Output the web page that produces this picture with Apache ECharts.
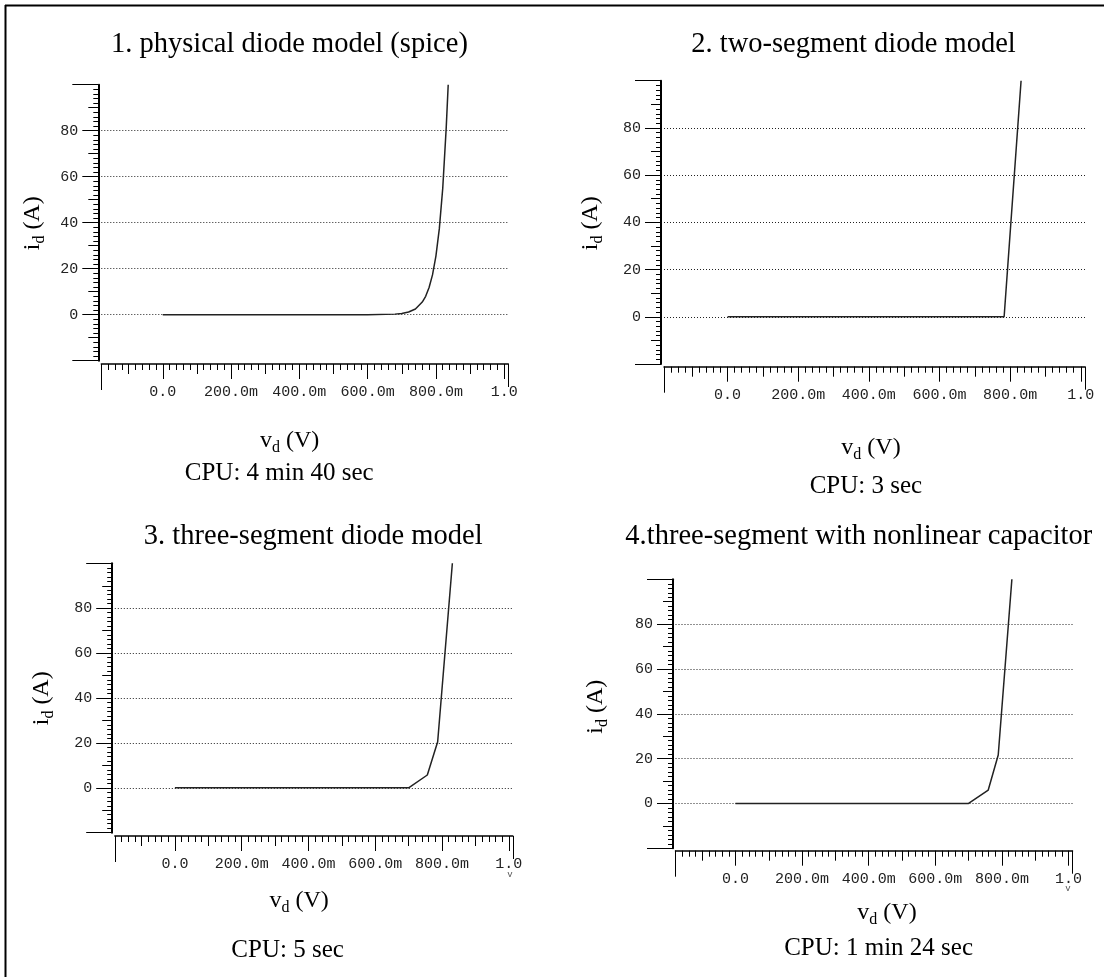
<!DOCTYPE html>
<html><head><meta charset="utf-8">
<script src="https://cdn.jsdelivr.net/npm/echarts@6/dist/echarts.min.js"></script>
<style>html,body{margin:0;padding:0;background:#fff}#c{width:1104px;height:977px}</style>
</head><body><div id="c"></div>
<script>
// ---- data ----
const xTickVals = [0, 0.2, 0.4, 0.6, 0.8, 1.0];
const xTickLabels = ['0.0', '200.0m', '400.0m', '600.0m', '800.0m', '1.0'];
const yTickVals = [0, 20, 40, 60, 80];
const yTickLabels = ['0', '20', '40', '60', '80'];
const xRange = [-0.18, 1.012];
const yRange = [-20, 100];

const titles = ['1. physical diode model (spice)', '2. two-segment diode model',
                '3. three-segment diode model', '4.three-segment with nonlinear capacitor'];
const cpuTexts = ['CPU: 4 min 40 sec', 'CPU: 3 sec', 'CPU: 5 sec', 'CPU: 1 min 24 sec'];

const v1 = [0, 0.6, 0.68, 0.70, 0.72, 0.74, 0.76, 0.77, 0.78, 0.79, 0.80, 0.81, 0.82, 0.83, 0.836];
const i1 = [0, 0, 0.25, 0.55, 1.2, 2.5, 5.5, 8, 11.8, 17.3, 25.5, 37.4, 55, 80.8, 100];
const v2 = [0, 0.783, 0.831];
const i2 = [0, 0, 100];
const v3 = [0, 0.700, 0.756, 0.787, 0.831];
const i3 = [0, 0, 5.7, 20.5, 100];
const v4 = [0, 0.700, 0.759, 0.789, 0.830];
const i4 = [0, 0, 6.0, 21.6, 100];
const curvesV = [v1, v2, v3, v4];
const curvesI = [i1, i2, i3, i4];

// ---- layout ----
const panels = [
  {left: 101.3, top: 84.7, width: 407, height: 276, yOff: 3, xOff: 3.3,
   title: [289.4, 45], cpu: [279.2, 473.3], vd: [289.7, 441], id: [33, 223.3]},
  {left: 664, top: 80.7, width: 421, height: 283.3, yOff: 3, xOff: 2.7,
   title: [853.5, 45], cpu: [865.9, 486.7], vd: [871, 447.5], id: [590.5, 223.3]},
  {left: 114.8, top: 563.3, width: 398, height: 269.4, yOff: 2.6, xOff: 3.3,
   title: [313.2, 536.7], cpu: [287.6, 950], vd: [299.2, 901], id: [42, 698.3]},
  {left: 675.5, top: 579.3, width: 397, height: 269, yOff: 2.5, xOff: 2.4,
   title: [858.8, 536.7], cpu: [878.6, 948.3], vd: [887, 912.5], id: [596, 706.7]}
];

const serif = "'Liberation Serif', 'Times New Roman', serif";
const mono = "'Liberation Mono', 'DejaVu Sans Mono', monospace";

// tick positions (axis decoration)
const xMed = [], xMinor = [], yMed = [], yMinor = [];
for (let k = -9; k <= 50; k++) { if (k % 5 !== 0) xMinor.push(Math.round(k * 2) / 100); }
for (let k = -1; k <= 9; k += 2) xMed.push(k / 10);
for (let k = -9; k <= 49; k++) { if (k % 5 !== 0) yMinor.push(k * 2); }
for (let k = -1; k <= 9; k += 2) yMed.push(k * 10);

const X_PER = 5, Y_PER = 4;
const grids = [], xAxes = [], yAxes = [], series = [], graphics = [];

function fmtX(v) {
  const idx = xTickVals.findIndex(t => Math.abs(t - v) < 1e-6);
  return idx >= 0 ? xTickLabels[idx] : '';
}
function fmtY(v) {
  const idx = yTickVals.findIndex(t => Math.abs(t - v) < 1e-6);
  return idx >= 0 ? yTickLabels[idx] : '';
}

panels.forEach((P, g) => {
  grids.push({left: P.left, top: P.top, width: P.width, height: P.height, containLabel: false, outerBoundsMode: 'none'});
  const xb = (vals, len, extra) => Object.assign({
    gridIndex: g, type: 'value', min: xRange[0], max: xRange[1], position: 'bottom', offset: P.xOff,
    splitLine: {show: false}, axisLine: {show: false, onZero: false}, axisLabel: {show: false},
    axisTick: {show: true, inside: false, length: len, customValues: vals, lineStyle: {color: '#000', width: 1}}
  }, extra || {});
  xAxes.push(xb(xTickVals, 15, {
    axisLine: {show: true, onZero: false, lineStyle: {color: '#000', width: 1.5}},
    axisLabel: {show: true, customValues: xTickVals, formatter: fmtX, margin: 21,
                fontFamily: mono, fontSize: 15, color: '#222'}
  }));
  xAxes.push(xb(xMed, 10));
  xAxes.push(xb(xMinor, 6));
  xAxes.push(xb([xRange[0]], 26));
  xAxes.push(xb([xRange[1]], 23));

  const yb = (vals, len, extra) => Object.assign({
    gridIndex: g, type: 'value', min: yRange[0], max: yRange[1], position: 'left', offset: P.yOff,
    splitLine: {show: false}, axisLine: {show: false, onZero: false}, axisLabel: {show: false},
    axisTick: {show: true, inside: false, length: len, customValues: vals, lineStyle: {color: '#000', width: 1}}
  }, extra || {});
  yAxes.push(yb(yTickVals, 16, {
    axisLine: {show: true, onZero: false, lineStyle: {color: '#000', width: 2}},
    axisLabel: {show: true, customValues: yTickVals, formatter: fmtY, margin: 20,
                fontFamily: mono, fontSize: 15, color: '#222'}
  }));
  yAxes.push(yb(yMed, 10));
  yAxes.push(yb(yMinor, 5));
  yAxes.push(yb([yRange[0], yRange[1]], 26));

  series.push({
    type: 'line', xAxisIndex: g * X_PER, yAxisIndex: g * Y_PER,
    data: curvesV[g].map((v, k) => [v, curvesI[g][k]]),
    showSymbol: false, symbol: 'none', smooth: false, z: 3,
    lineStyle: {color: '#222', width: 1.5},
    markLine: {
      silent: true, symbol: ['none', 'none'], label: {show: false}, z: 1,
      lineStyle: {type: [1, 2], color: '#222', width: 1},
      emphasis: {disabled: true},
      data: yTickVals.map(v => ({yAxis: v}))
    }
  });

  graphics.push({type: 'text', x: P.title[0], y: P.title[1],
    style: {text: titles[g], fill: '#000', font: '28.5px ' + serif, textAlign: 'center', textVerticalAlign: 'middle'}});
  graphics.push({type: 'text', x: P.cpu[0], y: P.cpu[1],
    style: {text: cpuTexts[g], fill: '#000', font: '25px ' + serif, textAlign: 'center', textVerticalAlign: 'middle'}});
  const rich = {
    m: {fontSize: 24, fontFamily: serif, fill: '#000', lineHeight: 30, verticalAlign: 'middle'},
    s: {fontSize: 16, fontFamily: serif, fill: '#000', lineHeight: 16, verticalAlign: 'bottom'}
  };
  graphics.push({type: 'text', x: P.vd[0], y: P.vd[1],
    style: {text: '{m|v}{s|d}{m| (V)}', rich: rich, fill: '#000', textAlign: 'center', textVerticalAlign: 'middle'}});
  graphics.push({type: 'text', x: P.id[0], y: P.id[1], rotation: Math.PI / 2,
    style: {text: '{m|i}{s|d}{m| (A)}', rich: rich, fill: '#000', textAlign: 'center', textVerticalAlign: 'middle'}});
});

// outer frame (left and top edges)
graphics.push({type: 'line', shape: {x1: 5.5, y1: 5, x2: 5.5, y2: 977}, style: {stroke: '#000', lineWidth: 2}});
graphics.push({type: 'line', shape: {x1: 5, y1: 5.5, x2: 1104, y2: 5.5}, style: {stroke: '#000', lineWidth: 2}});
// clipped unit marks under the last tick label
graphics.push({type: 'text', x: 510, y: 875, style: {text: 'v', fill: '#555', font: '9px ' + mono, textAlign: 'center', textVerticalAlign: 'middle'}});
graphics.push({type: 'text', x: 1068, y: 889, style: {text: 'v', fill: '#555', font: '9px ' + mono, textAlign: 'center', textVerticalAlign: 'middle'}});

const chart = echarts.init(document.getElementById('c'), null, {renderer: 'canvas'});
chart.setOption({
  backgroundColor: '#fff',
  animation: false,
  grid: grids,
  xAxis: xAxes,
  yAxis: yAxes,
  series: series,
  graphic: graphics
});
</script>
</body></html>
